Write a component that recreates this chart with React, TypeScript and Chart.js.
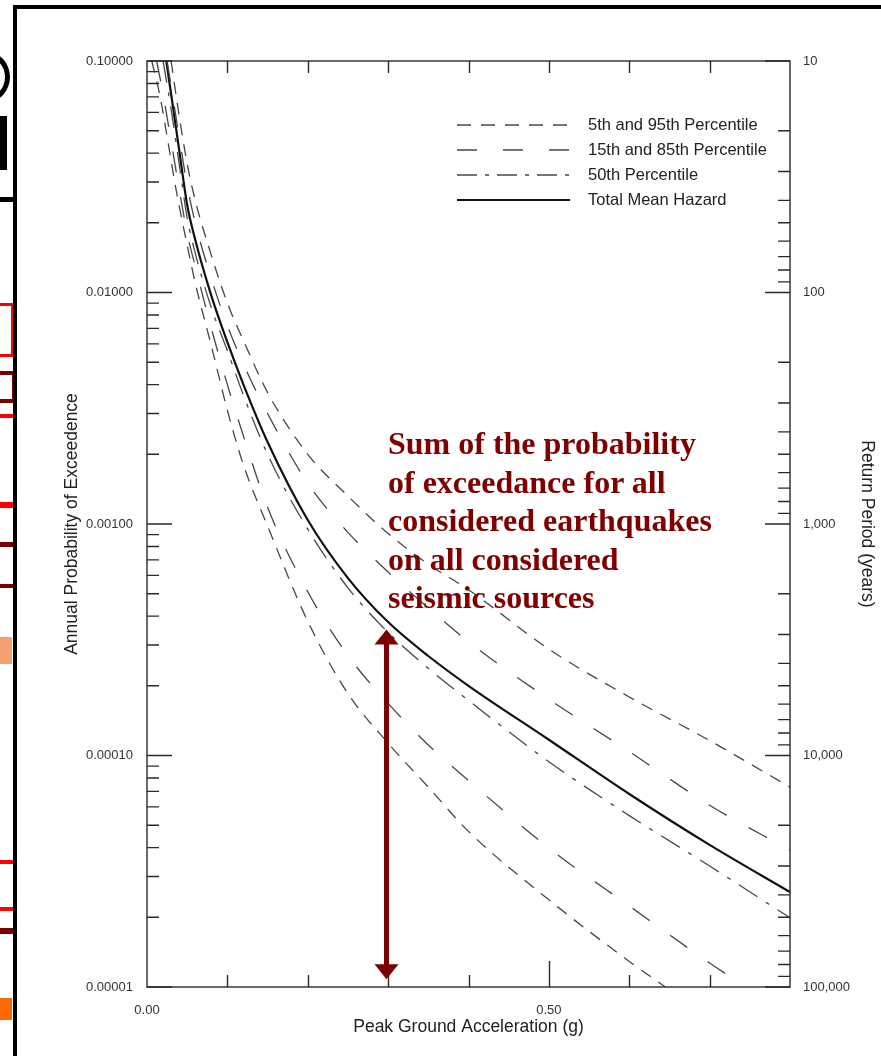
import React, { useEffect, useRef } from "react";
import { Chart, registerables } from "chart.js";

Chart.register(...registerables);

// ---- Data: Peak Ground Acceleration (g) vs annual probability of exceedance ----
const p05Pga = [0.006, 0.016, 0.026, 0.036, 0.05, 0.06, 0.08, 0.1, 0.12, 0.15, 0.2, 0.25, 0.3, 0.35, 0.4, 0.5, 0.6, 0.645];
const p05Prob = [0.1, 0.071, 0.045, 0.028, 0.016, 0.011, 0.0059, 0.0031, 0.0018, 0.00098, 0.00038, 0.000185, 0.000113, 0.000073, 0.000047, 0.0000238, 0.0000129, 0.00001];

const p15Pga = [0.012, 0.02, 0.03, 0.04, 0.05, 0.06, 0.08, 0.1, 0.12, 0.15, 0.2, 0.25, 0.3, 0.35, 0.4, 0.5, 0.6, 0.7, 0.745];
const p15Prob = [0.1, 0.072, 0.045, 0.028, 0.018, 0.013, 0.007, 0.004, 0.0024, 0.00118, 0.00051, 0.00027, 0.000168, 0.000111, 0.000078, 0.0000398, 0.0000224, 0.0000127, 0.00001];

const p50Pga = [0.02, 0.03, 0.04, 0.05, 0.06, 0.08, 0.1, 0.12, 0.15, 0.2, 0.25, 0.3, 0.35, 0.4, 0.5, 0.6, 0.7, 0.8];
const p50Prob = [0.1, 0.062, 0.036, 0.021, 0.0148, 0.0086, 0.0056, 0.0036, 0.002, 0.00095, 0.00053, 0.00034, 0.000238, 0.000173, 0.000094, 0.000055, 0.0000333, 0.0000199];

const meanPga = [0.024, 0.03, 0.04, 0.05, 0.06, 0.08, 0.1, 0.12, 0.15, 0.2, 0.25, 0.3, 0.35, 0.4, 0.5, 0.6, 0.7, 0.8];
const meanProb = [0.1, 0.072, 0.0413, 0.0239, 0.0169, 0.0097, 0.0061, 0.004, 0.00226, 0.00104, 0.000584, 0.000377, 0.000269, 0.0002, 0.000117, 0.0000682, 0.0000411, 0.0000257];

const p85Pga = [0.025, 0.03, 0.04, 0.05, 0.06, 0.08, 0.1, 0.12, 0.15, 0.2, 0.25, 0.3, 0.35, 0.4, 0.5, 0.6, 0.7, 0.8];
const p85Prob = [0.1, 0.078, 0.047, 0.029, 0.02, 0.0115, 0.0072, 0.0049, 0.003, 0.0015, 0.00092, 0.00062, 0.000434, 0.00031, 0.000175, 0.000104, 0.000061, 0.000039];

const p95Pga = [0.03, 0.04, 0.05, 0.06, 0.08, 0.1, 0.12, 0.15, 0.2, 0.25, 0.3, 0.35, 0.4, 0.5, 0.6, 0.7, 0.8];
const p95Prob = [0.1, 0.058, 0.036, 0.025, 0.0145, 0.009, 0.0062, 0.0037, 0.002, 0.00132, 0.00091, 0.00067, 0.00052, 0.000288, 0.000179, 0.000116, 0.000073];

// ---- Axes ----
const xMin = 0;
const xMax = 0.8;
const xLabelValues = [0, 0.5];
const xTickMarks = [0.1, 0.2, 0.3, 0.4, 0.5, 0.6, 0.7];
const probMin = 0.00001;
const probMax = 0.1;
const probDecades = [0.1, 0.01, 0.001, 0.0001, 0.00001];
const returnDecades = [10, 100, 1000, 10000, 100000];
const minorMultipliers = [2, 3, 4, 5, 6, 7, 8, 9];

// ---- Text ----
const legendLabels = ["5th and 95th Percentile", "15th and 85th Percentile", "50th Percentile", "Total Mean Hazard"];
const annotationLines = ["Sum of the probability", "of exceedance for all", "considered earthquakes", "on all considered", "seismic sources"];
const xTitle = "Peak Ground Acceleration (g)";
const yTitle = "Annual Probability of Exceedence";
const y2Title = "Return Period (years)";

// ---- Arrow annotation (PGA, probability range) ----
const arrowPga = 0.298;
const arrowTopProb = 0.00035;
const arrowBottomProb = 0.0000108;

const DASH_SHORT = [12, 9];
const DASH_LONG = [21, 25];
const DASH_DOT = [22, 10, 4, 10];
const GREY = "#474747";
const DARK_RED = "#800000";

const pts = (xs: number[], ys: number[]) => xs.map((x, i) => ({ x, y: ys[i] }));

const legendStyles = [
  { dash: [14, 10], width: 1.4, color: GREY },
  { dash: [20, 26], width: 1.4, color: GREY },
  { dash: [20, 8, 4, 8], width: 1.4, color: GREY },
  { dash: [], width: 2.2, color: "#111" },
];

const decorPlugin = {
  id: "decor",
  afterDatasetsDraw(chart: any) {
    const ctx = chart.ctx as CanvasRenderingContext2D;
    const { left, right, top, bottom } = chart.chartArea;
    const xs = chart.scales.x;
    const ys = chart.scales.y;
    ctx.save();
    ctx.setLineDash([]);
    ctx.strokeStyle = "#2a2a2a";
    ctx.lineWidth = 1.4;
    ctx.strokeRect(left, top, right - left, bottom - top);
    ctx.beginPath();
    for (const v of xTickMarks) {
      const px = Math.round(xs.getPixelForValue(v)) + 0.5;
      const len = v === 0.5 ? 26 : 12;
      ctx.moveTo(px, bottom);
      ctx.lineTo(px, bottom - len);
      ctx.moveTo(px, top);
      ctx.lineTo(px, top + 12);
    }
    for (const d of probDecades) {
      const py = ys.getPixelForValue(d);
      ctx.moveTo(left, py);
      ctx.lineTo(left + 25, py);
      if (d < probMax) {
        for (const m of minorMultipliers) {
          const v = d * m;
          if (v >= probMax) continue;
          const q = ys.getPixelForValue(v);
          ctx.moveTo(left, q);
          ctx.lineTo(left + 12, q);
        }
      }
    }
    for (const rp of returnDecades) {
      const py = ys.getPixelForValue(1 / rp);
      ctx.moveTo(right, py);
      ctx.lineTo(right - 25, py);
      if (rp < 100000) {
        for (const m of minorMultipliers) {
          const q = ys.getPixelForValue(1 / (rp * m));
          ctx.moveTo(right, q);
          ctx.lineTo(right - 12, q);
        }
      }
    }
    ctx.stroke();

    // legend
    const lx0 = left + 310;
    const lx1 = left + 423;
    legendLabels.forEach((label, i) => {
      const y = top + 64 + i * 25;
      const st = legendStyles[i];
      ctx.beginPath();
      ctx.setLineDash(st.dash);
      ctx.lineWidth = st.width;
      ctx.strokeStyle = st.color;
      ctx.moveTo(lx0, y);
      ctx.lineTo(lx1, y);
      ctx.stroke();
      ctx.setLineDash([]);
      ctx.fillStyle = "#222";
      ctx.font = "16.5px 'Liberation Sans', Arial, sans-serif";
      ctx.textBaseline = "middle";
      ctx.textAlign = "left";
      ctx.fillText(label, left + 441, y);
    });

    // double-headed arrow
    const ax = xs.getPixelForValue(arrowPga);
    const ay0 = ys.getPixelForValue(arrowTopProb);
    const ay1 = ys.getPixelForValue(arrowBottomProb);
    const hw = 12;
    const hh = 15;
    ctx.fillStyle = "#7c0000";
    ctx.strokeStyle = "#7c0000";
    ctx.lineWidth = 5;
    ctx.beginPath();
    ctx.moveTo(ax, ay0 + hh - 1);
    ctx.lineTo(ax, ay1 - hh + 1);
    ctx.stroke();
    ctx.beginPath();
    ctx.moveTo(ax, ay0);
    ctx.lineTo(ax - hw, ay0 + hh);
    ctx.lineTo(ax + hw, ay0 + hh);
    ctx.closePath();
    ctx.fill();
    ctx.beginPath();
    ctx.moveTo(ax, ay1);
    ctx.lineTo(ax - hw, ay1 - hh);
    ctx.lineTo(ax + hw, ay1 - hh);
    ctx.closePath();
    ctx.fill();
    ctx.restore();
  },
};

const tickFont = { family: "'Liberation Sans', Arial, sans-serif", size: 13 };
const titleFont = { family: "'Liberation Sans', Arial, sans-serif", size: 17.5 };

export default function App() {
  const canvasRef = useRef<HTMLCanvasElement>(null);

  useEffect(() => {
    const canvas = canvasRef.current;
    if (!canvas) return;
    const base = {
      pointRadius: 0,
      pointHoverRadius: 0,
      fill: false,
      cubicInterpolationMode: "monotone" as const,
    };
    const chart = new Chart(canvas, {
      type: "line",
      data: {
        datasets: [
          { ...base, label: "5th Percentile", data: pts(p05Pga, p05Prob), borderColor: GREY, borderWidth: 1.3, borderDash: DASH_SHORT },
          { ...base, label: "15th Percentile", data: pts(p15Pga, p15Prob), borderColor: GREY, borderWidth: 1.3, borderDash: DASH_LONG },
          { ...base, label: "50th Percentile", data: pts(p50Pga, p50Prob), borderColor: GREY, borderWidth: 1.3, borderDash: DASH_DOT },
          { ...base, label: "85th Percentile", data: pts(p85Pga, p85Prob), borderColor: GREY, borderWidth: 1.3, borderDash: DASH_LONG },
          { ...base, label: "95th Percentile", data: pts(p95Pga, p95Prob), borderColor: GREY, borderWidth: 1.3, borderDash: DASH_SHORT },
          { ...base, label: "Total Mean Hazard", data: pts(meanPga, meanProb), borderColor: "#111", borderWidth: 2.2 },
        ],
      },
      options: {
        responsive: false,
        maintainAspectRatio: false,
        animation: false,
        devicePixelRatio: 1,
        layout: { padding: { top: 61, left: 0, right: 0, bottom: 0 } },
        plugins: { legend: { display: false }, tooltip: { enabled: false } },
        scales: {
          x: {
            type: "linear",
            position: "bottom",
            min: xMin,
            max: xMax,
            afterBuildTicks: (s: any) => {
              s.ticks = xLabelValues.map((v) => ({ value: v }));
            },
            afterFit: (s: any) => {
              s.height = 69;
            },
            ticks: {
              callback: (v: any) => Number(v).toFixed(2),
              font: tickFont,
              color: "#333",
              padding: 16,
              autoSkip: false,
              maxRotation: 0,
            },
            grid: { display: false, drawTicks: false },
            border: { display: false },
            title: { display: true, text: xTitle, font: titleFont, color: "#222", padding: { top: 0, bottom: 18 } },
          },
          y: {
            type: "logarithmic",
            position: "left",
            min: probMin,
            max: probMax,
            afterBuildTicks: (s: any) => {
              s.ticks = probDecades.map((v) => ({ value: v }));
            },
            afterFit: (s: any) => {
              s.width = 147;
            },
            ticks: {
              callback: (v: any) => Number(v).toFixed(5),
              font: tickFont,
              color: "#333",
              padding: 14,
              autoSkip: false,
            },
            grid: { display: false, drawTicks: false },
            border: { display: false },
            title: { display: true, text: yTitle, font: titleFont, color: "#222", padding: { top: 62, bottom: 0 } },
          },
          y2: {
            type: "logarithmic",
            position: "right",
            min: probMin,
            max: probMax,
            afterBuildTicks: (s: any) => {
              s.ticks = returnDecades.map((rp) => ({ value: 1 / rp }));
            },
            afterFit: (s: any) => {
              s.width = 91;
            },
            ticks: {
              callback: (v: any) => Math.round(1 / Number(v)).toLocaleString("en-US"),
              font: tickFont,
              color: "#333",
              padding: 13,
              autoSkip: false,
            },
            grid: { display: false, drawTicks: false },
            border: { display: false },
            title: { display: true, text: y2Title, font: titleFont, color: "#222", padding: { top: 4, bottom: 0 } },
          },
        },
      },
      plugins: [decorPlugin],
    } as any);
    return () => chart.destroy();
  }, []);

  const frag = (style: React.CSSProperties) => <div style={{ position: "absolute", ...style }} />;

  return (
    <div style={{ position: "absolute", left: 0, top: 0, width: 881, height: 1056, overflow: "hidden", background: "#fff" }}>
      {/* clipped fragments of the neighbouring slide content */}
      <div style={{ position: "absolute", left: 0, top: 0, width: 13, height: 1056, overflow: "hidden" }}>
        {frag({ left: -36, top: 52, width: 36, height: 40, border: "5px solid #000", borderRadius: "50%" })}
        {frag({ left: 0, top: 116, width: 7, height: 54, background: "#000" })}
        {frag({ left: 0, top: 197, width: 13, height: 5, background: "#000" })}
        {frag({ left: -20, top: 303, width: 28, height: 48, border: "3px solid #f00" })}
        {frag({ left: -20, top: 371, width: 28, height: 24, border: "4px solid #7a0000" })}
        {frag({ left: -20, top: 414, width: 33, height: 4, background: "#f00" })}
        {frag({ left: -20, top: 502, width: 33, height: 6, background: "#f00" })}
        {frag({ left: -20, top: 542, width: 33, height: 5, background: "#7a0000" })}
        {frag({ left: -20, top: 584, width: 33, height: 4, background: "#7a0000" })}
        {frag({ left: 0, top: 637, width: 12, height: 27, background: "#f4a070" })}
        {frag({ left: 0, top: 860, width: 13, height: 4, background: "#f00" })}
        {frag({ left: 0, top: 907, width: 13, height: 4, background: "#f00" })}
        {frag({ left: 0, top: 928, width: 13, height: 6, background: "#7a0000" })}
        {frag({ left: 0, top: 998, width: 12, height: 22, background: "#ff6a00" })}
      </div>
      <canvas ref={canvasRef} width={881} height={1056} style={{ position: "absolute", left: 0, top: 0, width: 881, height: 1056 }} />
      {/* slide frame */}
      {frag({ left: 13, top: 5, width: 868, height: 4, background: "#000" })}
      {frag({ left: 13, top: 5, width: 4, height: 1051, background: "#000" })}
      <div
        style={{
          position: "absolute",
          left: 388,
          top: 424,
          fontFamily: "'Liberation Serif', 'Times New Roman', serif",
          fontWeight: "bold",
          fontSize: 32,
          lineHeight: "38.5px",
          color: DARK_RED,
          whiteSpace: "pre",
        }}
      >
        {annotationLines.join("\n")}
      </div>
    </div>
  );
}
